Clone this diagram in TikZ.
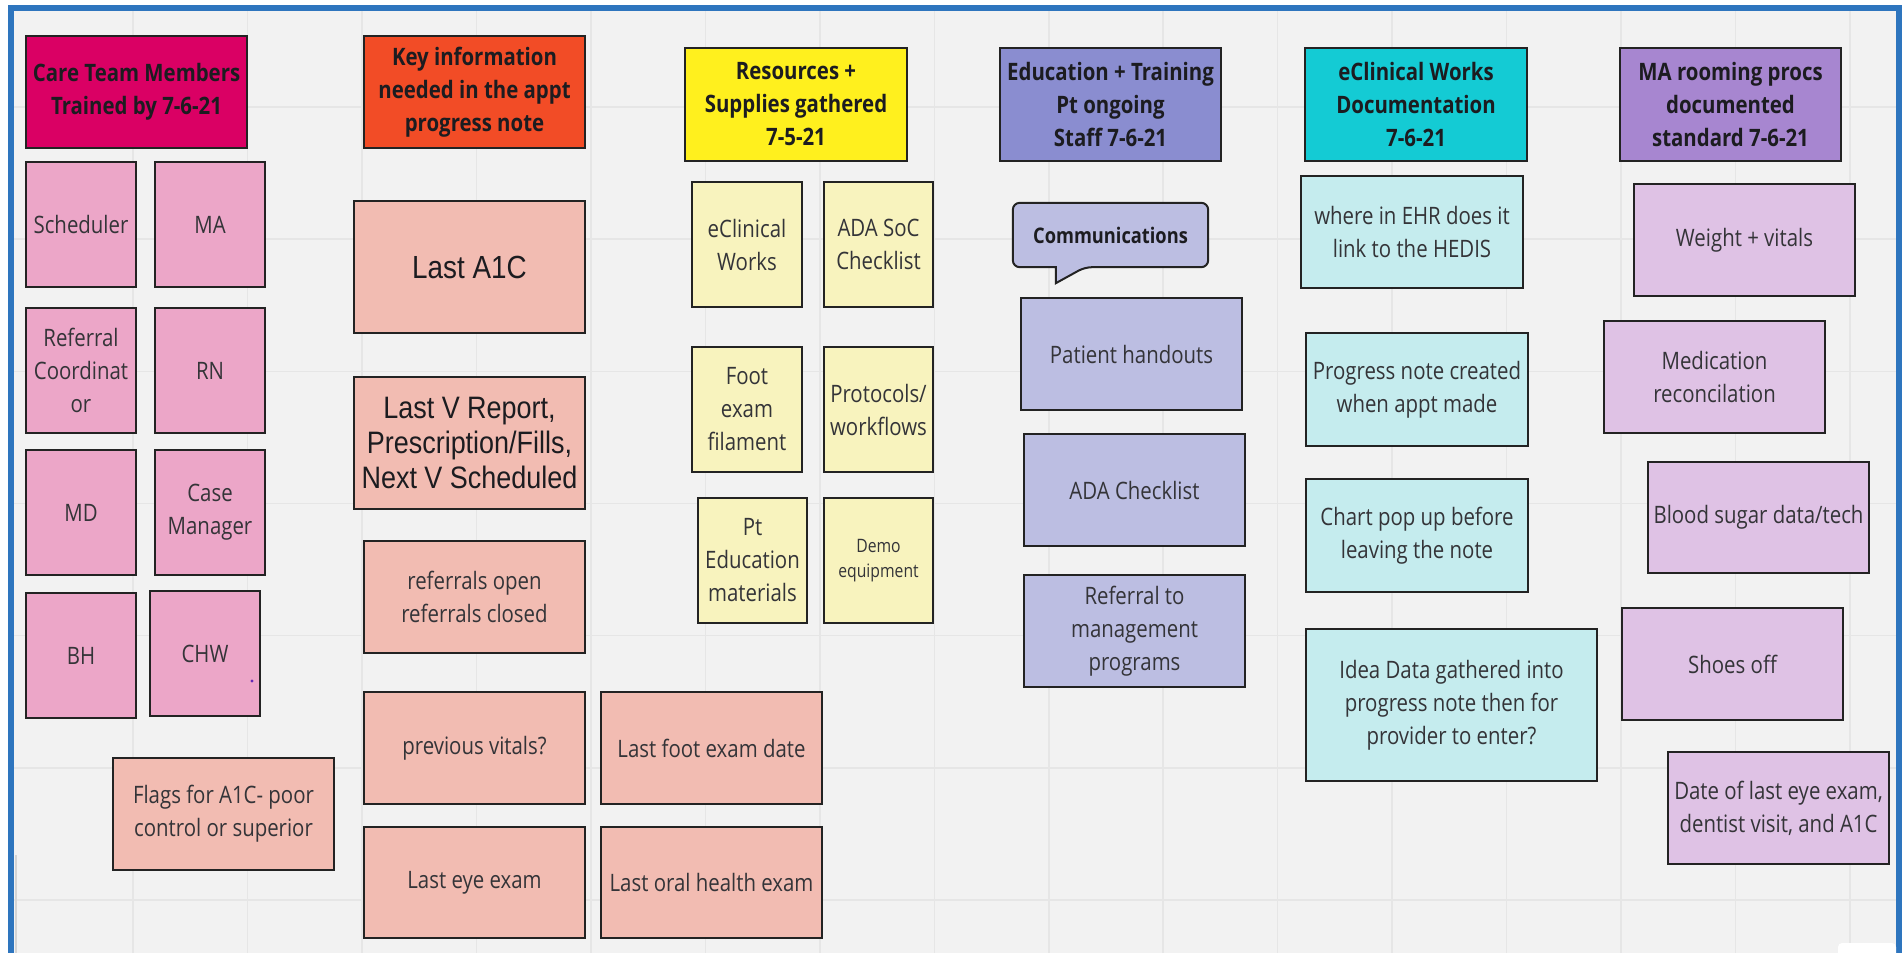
\documentclass[tikz,border=0pt]{standalone}
\usepackage{fontspec}
\setmainfont{Open Sans}[FakeStretch=0.85]
\newfontfamily\arialf{Liberation Sans}[FakeStretch=0.87]
\usetikzlibrary{backgrounds}
\definecolor{framebl}{RGB}{46,117,190}
\definecolor{boardbg}{RGB}{242,242,242}
\definecolor{gridc}{RGB}{230,230,230}
\definecolor{boxline}{RGB}{35,35,35}
\definecolor{bodytext}{RGB}{52,52,56}
\definecolor{headtext}{RGB}{28,28,32}
\definecolor{ctmhead}{RGB}{218,0,100}
\definecolor{kinhead}{RGB}{242,76,38}
\definecolor{pinkc}{RGB}{236,166,200}
\definecolor{salmonc}{RGB}{242,188,178}
\definecolor{yelhead}{RGB}{255,240,30}
\definecolor{yelc}{RGB}{248,243,190}
\definecolor{eduhead}{RGB}{138,141,208}
\definecolor{lavc}{RGB}{188,190,226}
\definecolor{cyanhead}{RGB}{20,203,212}
\definecolor{cyanc}{RGB}{197,236,238}
\definecolor{purphead}{RGB}{167,134,208}
\definecolor{purpc}{RGB}{223,194,229}
\definecolor{dotc}{RGB}{100,40,180}
\definecolor{artc}{RGB}{212,212,212}
\begin{document}
\begin{tikzpicture}[x=1pt,y=-1pt,
  box/.style={draw=boxline, line width=2pt, inner sep=2pt, align=center,
    text=bodytext, font=\fontsize{24}{33}\selectfont},
  head/.style={box, text=headtext, font=\bfseries\fontsize{24}{33}\selectfont},
  sz/.style 2 args={minimum width=#1pt, minimum height=#2pt},
  arialbox/.style={box, text=headtext, font=\arialf\fontsize{#1}{35}\selectfont},
  smallbox/.style={box, font=\fontsize{18.5}{25}\selectfont},
  gridline/.style={draw=gridc, line width=1.5pt},
  callout/.style={fill=lavc, draw=boxline, line width=2pt}
]
\useasboundingbox (0,0) rectangle (1902,953);
\begin{scope}[on background layer]
  \fill[white] (0,0) rectangle (1902,953);
  \fill[boardbg] (14,11) rectangle (1896,953);
  \foreach \k in {0,...,15} \draw[gridline] ({133+114.47*\k},11) -- ({133+114.47*\k},953);
  \foreach \k in {0,...,6} \draw[gridline] (14,{107+132.17*\k}) -- (1896,{107+132.17*\k});
  \fill[framebl] (8,5) rectangle (1902,11);
  \fill[framebl] (8,5) rectangle (14,953);
  \fill[framebl] (1896,5) rectangle (1902,953);
  \draw[line width=2pt, draw=artc] (16,855) -- (16,953);
  \fill[white] (1838,953) [rounded corners=4pt] -- (1838,943) -- (1896,943) [sharp corners] -- (1896,953) -- cycle;
\end{scope}

% Care team column
\node[head, fill=ctmhead, sz={221}{112}] (ctm) at (136.5,92) {Care Team Members\\Trained by 7-6-21};
\node[box, fill=pinkc, sz={110}{125}] (sched) at (81,224.5) {Scheduler};
\node[box, fill=pinkc, sz={110}{125}] (ma) at (210,224.5) {MA};
\node[box, fill=pinkc, sz={110}{125}] (refc) at (81,370.5) {Referral\\Coordinat\\or};
\node[box, fill=pinkc, sz={110}{125}] (rn) at (210,370.5) {RN};
\node[box, fill=pinkc, sz={110}{125}] (md) at (81,512.5) {MD};
\node[box, fill=pinkc, sz={110}{125}] (casem) at (210,512.5) {Case\\Manager};
\node[box, fill=pinkc, sz={110}{125}] (bh) at (81,655.5) {BH};
\node[box, fill=pinkc, sz={110}{125}] (chw) at (205,653.5) {CHW};
\fill[dotc] (252,681) circle (1.6pt);
\node[box, fill=salmonc, sz={221}{112}] (flags) at (223.5,814) {Flags for A1C- poor\\control or superior};

% Key information column
\node[head, fill=kinhead, sz={221}{112}] (kin) at (474.5,92) {Key information\\needed in the appt\\progress note};
\node[arialbox=32, fill=salmonc, sz={231}{132}] (a1c) at (469.5,267) {Last A1C};
\node[arialbox=31, fill=salmonc, sz={231}{132}] (lastv) at (469.5,443) {Last V Report,\\Prescription/Fills,\\Next V Scheduled};
\node[box, fill=salmonc, sz={221}{112}] (refs) at (474.5,597) {referrals open\\referrals closed};
\node[box, fill=salmonc, sz={221}{112}] (prevv) at (474.5,748) {previous vitals?};
\node[box, fill=salmonc, sz={221}{111}] (lasteye) at (474.5,882.5) {Last eye exam};
\node[box, fill=salmonc, sz={221}{112}] (lastfoot) at (711.5,748) {Last foot exam date};
\node[box, fill=salmonc, sz={221}{111}] (lastoral) at (711.5,882.5) {Last oral health exam};

% Resources column
\node[head, fill=yelhead, sz={222}{113}] (res) at (796,104.5) {Resources +\\Supplies gathered\\7-5-21};
\node[box, fill=yelc, sz={110}{125}] (ecw) at (747,244.5) {eClinical\\Works};
\node[box, fill=yelc, sz={109}{125}] (adasoc) at (878.5,244.5) {ADA SoC\\Checklist};
\node[box, fill=yelc, sz={110}{125}] (foot) at (747,409.5) {Foot\\exam\\filament};
\node[box, fill=yelc, sz={109}{125}] (proto) at (878.5,409.5) {Protocols/\\workflows};
\node[box, fill=yelc, sz={109}{125}] (pted) at (752.5,560.5) {Pt\\Education\\materials};
\node[smallbox, fill=yelc, sz={109}{125}] (demo) at (878.5,560.5) {Demo\\equipment};

% Education column
\node[head, fill=eduhead, sz={221}{113}] (edu) at (1110.5,104.5) {Education + Training\\Pt ongoing\\Staff 7-6-21};
\node[inner sep=0pt, sz={195}{64}, text=headtext, font=\bfseries\fontsize{21.5}{28}\selectfont] (comm) at (1110.5,235) {Communications};
\begin{scope}[on background layer]
  \draw[callout] (comm.west) [rounded corners=7pt] -- (comm.north west) -- (comm.north east) -- (comm.south east)
    -- ([xshift=72pt]comm.south west) [sharp corners] -- ([xshift=43pt,yshift=-16pt]comm.south west)
    -- ([xshift=43pt]comm.south west) [rounded corners=7pt] -- (comm.south west) -- cycle;
\end{scope}
\node[box, fill=lavc, sz={221}{112}] (handouts) at (1131.5,354) {Patient handouts};
\node[box, fill=lavc, sz={221}{112}] (adack) at (1134.5,490) {ADA Checklist};
\node[box, fill=lavc, sz={221}{112}] (refmg) at (1134.5,631) {Referral to\\management\\programs};

% eClinical documentation column
\node[head, fill=cyanhead, sz={222}{113}] (ecwd) at (1416,104.5) {eClinical Works\\Documentation\\7-6-21};
\node[box, fill=cyanc, sz={222}{112}] (ehr) at (1412,232) {where in EHR does it\\link to the HEDIS};
\node[box, fill=cyanc, sz={222}{113}] (pnote) at (1417,389.5) {Progress note created\\when appt made};
\node[box, fill=cyanc, sz={222}{113}] (chart) at (1417,535.5) {Chart pop up before\\leaving the note};
\node[box, fill=cyanc, sz={291}{152}] (idea) at (1451.5,705) {Idea Data gathered into\\progress note then for\\provider to enter?};

% MA rooming column
\node[head, fill=purphead, sz={221}{113}] (marp) at (1730.5,104.5) {MA rooming procs\\documented\\standard 7-6-21};
\node[box, fill=purpc, sz={221}{112}] (weight) at (1744.5,240) {Weight + vitals};
\node[box, fill=purpc, sz={221}{112}] (medrec) at (1714.5,377) {Medication\\reconcilation};
\node[box, fill=purpc, sz={221}{111}] (bsugar) at (1758.5,517.5) {Blood sugar data/tech};
\node[box, fill=purpc, sz={221}{112}] (shoes) at (1732.5,664) {Shoes off};
\node[box, fill=purpc, sz={221}{112}] (dateeye) at (1778.5,808) {Date of last eye exam,\\dentist visit, and A1C};
\end{tikzpicture}
\end{document}
